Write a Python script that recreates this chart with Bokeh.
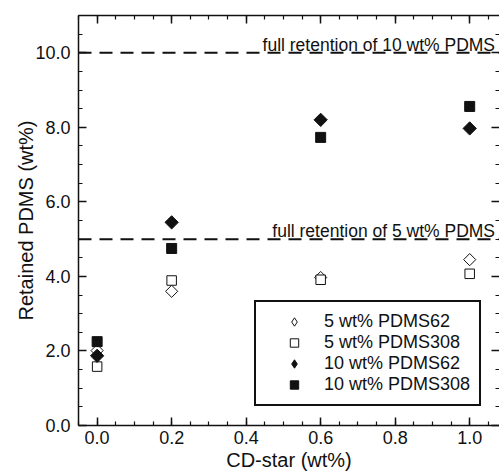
import numpy as np
from bokeh.plotting import figure
from bokeh.models import (Range1d, LinearAxis, SingleIntervalTicker, NumeralTickFormatter,
                          Span, Legend, LegendItem, ColumnDataSource)
from bokeh.core.properties import value
from bokeh.embed import file_html
from bokeh.resources import INLINE

# ---- data ----
cd_star = [0.0, 0.2, 0.6, 1.0]
pdms62_5 = [2.01, 3.60, 3.97, 4.45]
pdms308_5 = [1.58, 3.89, 3.91, 4.07]
pdms62_10 = [1.87, 5.45, 8.20, 7.97]
pdms308_10 = [2.25, 4.75, 7.73, 8.56]
series_labels = ["5 wt% PDMS62", "5 wt% PDMS308", "10 wt% PDMS62", "10 wt% PDMS308"]
retention_levels = [10.0, 5.0]
retention_texts = ["full retention of 10 wt% PDMS", "full retention of 5 wt% PDMS"]

FONT = "Liberation Sans"
BLACK = "#111111"
X_START, X_END = -0.05, 1.08

p = figure(width=499, height=476, output_backend="svg", toolbar_location=None,
           x_range=Range1d(X_START, X_END), y_range=Range1d(0, 11),
           min_border_left=78, min_border_right=0, min_border_top=15, min_border_bottom=51)
p.outline_line_color = None
p.xgrid.visible = False
p.ygrid.visible = False
p.background_fill_color = "white"
p.border_fill_color = "white"


def style_axis(ax, labels=True):
    ax.axis_line_width = 1.5
    ax.axis_line_color = BLACK
    ax.major_tick_in = 8
    ax.major_tick_out = 0
    ax.minor_tick_in = 4
    ax.minor_tick_out = 0
    ax.major_tick_line_width = 1.5
    ax.minor_tick_line_width = 1.2
    ax.major_tick_line_color = BLACK
    ax.minor_tick_line_color = BLACK
    if labels:
        ax.major_label_text_font = FONT
        ax.major_label_text_font_size = "18px"
        ax.major_label_text_color = BLACK
        ax.axis_label_text_font = FONT
        ax.axis_label_text_font_size = "20px"
        ax.axis_label_text_font_style = "normal"
        ax.axis_label_text_color = BLACK
    else:
        ax.major_label_text_font_size = "1px"
        ax.major_label_text_color = None
        ax.major_label_standoff = 0
        ax.axis_label = None


xa = p.xaxis[0]
xa.ticker = SingleIntervalTicker(interval=0.2, num_minor_ticks=4)
xa.formatter = NumeralTickFormatter(format="0.0")
xa.axis_label = "CD-star (wt%)"
style_axis(xa)
xa.major_label_standoff = 5
xa.axis_label_standoff = 2

ya = p.yaxis[0]
ya.ticker = SingleIntervalTicker(interval=2, num_minor_ticks=4)
ya.formatter = NumeralTickFormatter(format="0.0")
ya.axis_label = "Retained PDMS (wt%)"
style_axis(ya)
ya.major_label_standoff = 8
ya.axis_label_standoff = -5

top = LinearAxis(ticker=SingleIntervalTicker(interval=0.2, num_minor_ticks=4))
style_axis(top, labels=False)
p.add_layout(top, "above")

right = LinearAxis(ticker=SingleIntervalTicker(interval=2, num_minor_ticks=4))
style_axis(right, labels=False)
right.axis_line_color = None
p.add_layout(right, "right")

# retention lines and labels
for lvl in retention_levels:
    p.add_layout(Span(location=lvl, dimension="width", line_color=BLACK,
                      line_width=2, line_dash="13 8"))

txt_src = ColumnDataSource(dict(x=[X_END - 0.012] * len(retention_levels),
                                y=retention_levels, t=retention_texts))
p.text("x", "y", text="t", source=txt_src, text_align="right",
       text_baseline="alphabetic", y_offset=-8,
       text_font=value(FONT), text_font_size="17.5px", text_color=BLACK)

src = ColumnDataSource(dict(x=cd_star, a=pdms62_5, b=pdms308_5, c=pdms62_10, d=pdms308_10))

r_a = p.scatter("x", "a", source=src, marker="square", angle=np.pi / 4, size=8.6,
                fill_color="white", line_color=BLACK, line_width=1)
r_b = p.scatter("x", "b", source=src, marker="square", size=9.5,
                fill_color="white", line_color=BLACK, line_width=1)
r_c = p.scatter("x", "c", source=src, marker="square", angle=np.pi / 4, size=9.4,
                fill_color=BLACK, line_color=BLACK, line_width=1)
r_d = p.scatter("x", "d", source=src, marker="square", size=10,
                fill_color=BLACK, line_color=BLACK, line_width=1)

# legend-only diamond glyphs (no data drawn)
leg_a = p.scatter(x=[np.nan], y=[np.nan], marker="diamond", size=12,
                  fill_color="white", line_color=BLACK, line_width=1)
leg_c = p.scatter(x=[np.nan], y=[np.nan], marker="diamond", size=12,
                  fill_color=BLACK, line_color=BLACK, line_width=1)

legend = Legend(items=[
    LegendItem(label=series_labels[0], renderers=[leg_a]),
    LegendItem(label=series_labels[1], renderers=[r_b]),
    LegendItem(label=series_labels[2], renderers=[leg_c]),
    LegendItem(label=series_labels[3], renderers=[r_d]),
], location=(176, 19))
legend.border_line_color = BLACK
legend.border_line_alpha = 1
legend.border_line_width = 2.5
legend.background_fill_color = "white"
legend.background_fill_alpha = 1
legend.label_text_font = FONT
legend.label_text_font_size = "18px"
legend.label_text_color = BLACK
legend.glyph_width = 58
legend.glyph_height = 21
legend.label_height = 21
legend.label_standoff = 1
legend.spacing = 0
legend.padding = 9
legend.margin = 0
p.add_layout(legend, "center")

open("out.html", "w").write(file_html(p, INLINE))
